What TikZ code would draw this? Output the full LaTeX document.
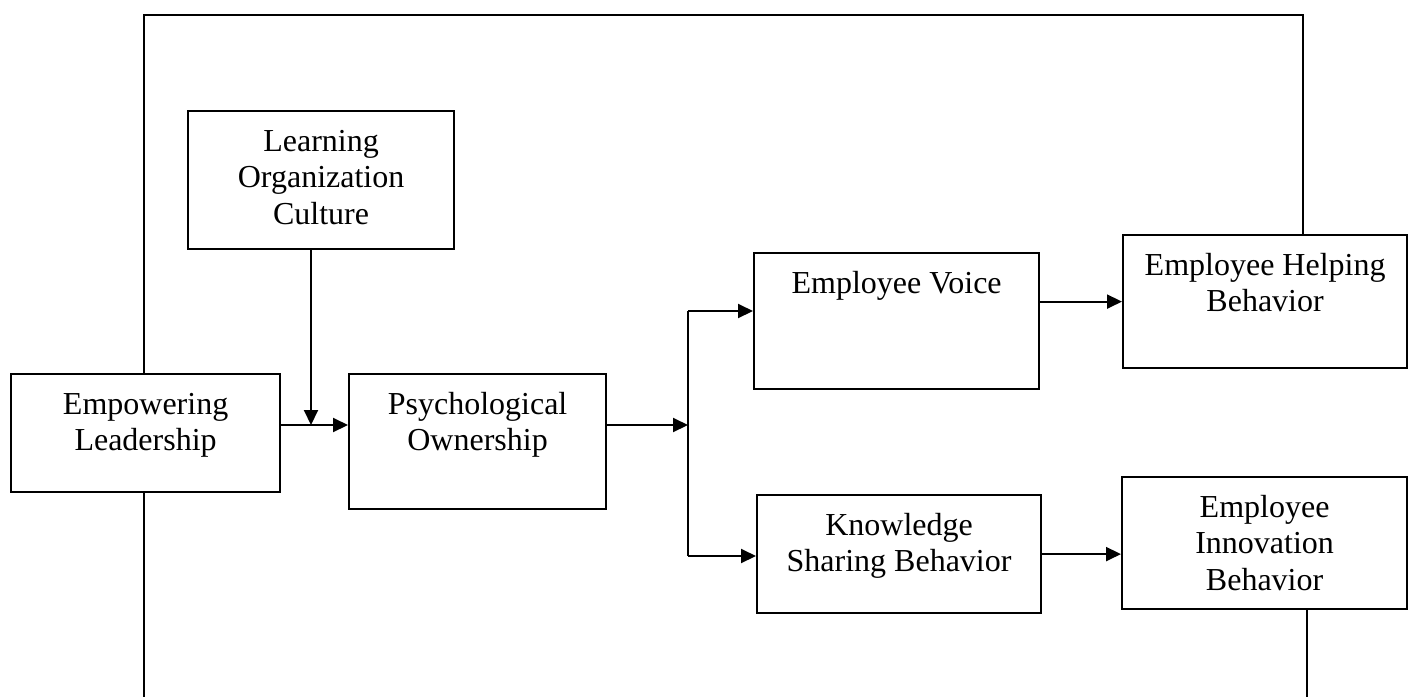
\documentclass[tikz,border=0pt]{standalone}
\usepackage{fontspec}
\setmainfont{Liberation Serif}
\usetikzlibrary{arrows.meta}
% box content: width, height (pt), text set from the top edge
\newcommand{\boxtext}[3]{\parbox[c][#2pt][t]{#1pt}{\centering\rule{0pt}{40pt}#3}}
\begin{document}
\begin{tikzpicture}[x=1pt,y=-1pt,
  box/.style={draw, line width=2.2pt, inner sep=0pt, anchor=north west,
              font=\fontsize{32}{36.5}\selectfont},
  conn/.style={line width=2pt},
  arr/.style={conn, -{Triangle[length=15pt,width=14pt]}}]
\useasboundingbox (0,0) rectangle (1408,697);

% constructs
\node[box] (EL)  at (10,373)   {\boxtext{269}{118}{Empowering\\Leadership}};
\node[box] (LOC) at (187,110)  {\boxtext{266}{138}{Learning\\Organization\\Culture}};
\node[box] (PO)  at (348,373)  {\boxtext{257}{135}{Psychological\\Ownership}};
\node[box] (EV)  at (753,252)  {\boxtext{285}{136}{Employee Voice}};
\node[box] (EHB) at (1122,234) {\boxtext{284}{133}{Employee Helping\\Behavior}};
\node[box] (KSB) at (756,494)  {\boxtext{284}{118}{Knowledge\\Sharing Behavior}};
\node[box] (EIB) at (1121,476) {\boxtext{285}{132}{Employee\\Innovation\\Behavior}};

% junction and routing points
\coordinate (m1)  at (311,425);
\coordinate (br)  at (688,425);
\coordinate (bt)  at (688,311);
\coordinate (bb)  at (688,556);
\coordinate (tl)  at (144,15);
\coordinate (tr)  at (1303,15);
\coordinate (bl)  at (144,697);
\coordinate (bR)  at (1307,697);

% main path
\draw[arr] (EL.east |- m1) -- (PO.west |- m1);
\draw[arr] (LOC.south -| m1) -- (m1);
\draw[arr] (PO.east |- br) -- (br);
\draw[conn] (bt) -- (bb);
\draw[arr] (bt) -- (EV.west |- bt);
\draw[arr] (bb) -- (KSB.west |- bb);
\draw[arr] (EV.east |- EHB.west) -- (EHB.west);
\draw[arr] (KSB.east) -- (KSB.east -| EIB.west);

% outer links
\draw[conn] (EL.north -| tl) -- (tl) -- (tr) -- (EHB.north -| tr);
\draw[conn] (EL.south -| bl) -- (bl);
\draw[conn] (EIB.south -| bR) -- (bR);
\end{tikzpicture}
\end{document}
